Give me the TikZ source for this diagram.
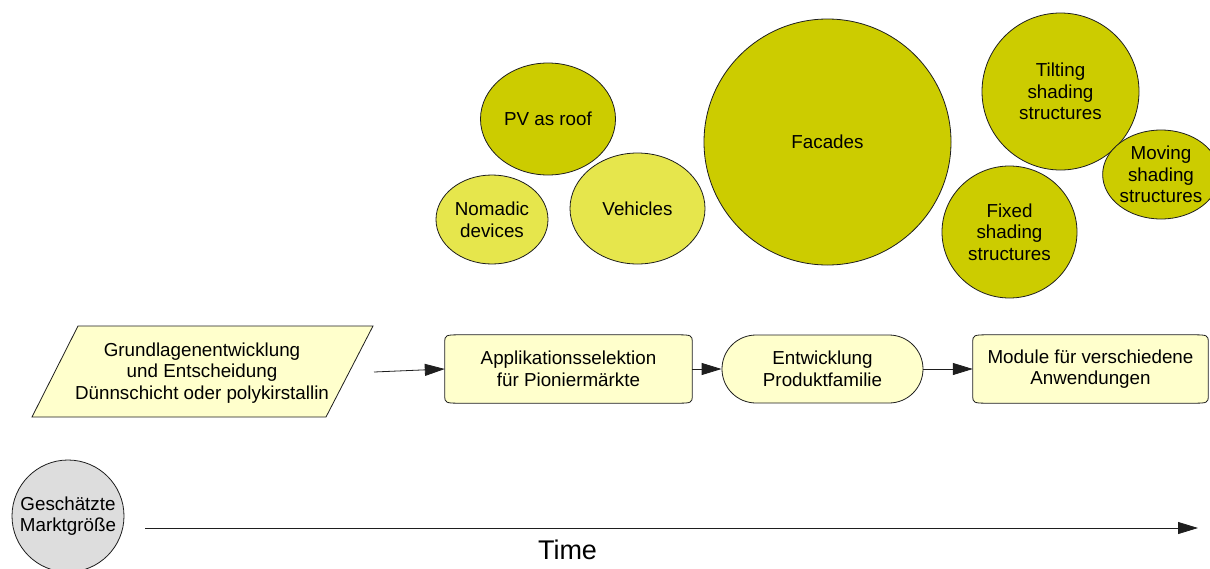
\documentclass[tikz,border=0pt]{standalone}
\usepackage{fontspec}
\setmainfont{Liberation Sans}
\usetikzlibrary{shapes.geometric,arrows.meta,backgrounds}
\definecolor{olive}{RGB}{204,204,0}
\definecolor{lightolive}{RGB}{230,230,76}
\definecolor{flowfill}{RGB}{255,255,204}
\definecolor{graycirc}{RGB}{221,221,221}
\definecolor{edgecol}{RGB}{30,30,30}
\newcommand\curvedbox[1]{%
  \begin{scope}[on background layer]
  \path[draw=edgecol,line width=0.8pt,fill=flowfill]
    ([yshift=-8pt]#1.north west) .. controls (#1.north west) .. ([xshift=18pt]#1.north west)
    -- ([xshift=-18pt]#1.north east) .. controls (#1.north east) .. ([yshift=-8pt]#1.north east)
    -- ([yshift=8pt]#1.south east) .. controls (#1.south east) .. ([xshift=-18pt]#1.south east)
    -- ([xshift=18pt]#1.south west) .. controls (#1.south west) .. ([yshift=8pt]#1.south west)
    -- cycle;
  \end{scope}}
\tikzset{
  txt/.style={font=\fontsize{18.8}{21.6}\selectfont, align=center, inner sep=0pt},
  bubble/.style={ellipse, draw=edgecol, line width=0.8pt, txt},
  dark/.style={bubble, fill=olive},
  light/.style={bubble, fill=lightolive},
  flowbox/.style={txt, minimum height=68pt},
  conn/.style={draw=edgecol, line width=0.8pt, -{Triangle[length=20pt,width=12pt]}},
}
\begin{document}
\begin{tikzpicture}[x=1pt,y=-1pt]
\useasboundingbox (0,0) rectangle (1210,568);
% bubbles
\node[dark, minimum width=135pt, minimum height=112pt] (pv) at (548,119) {PV as roof};
\node[light, minimum width=112pt, minimum height=89pt] (nom) at (492,219.5) {Nomadic\\devices};
\node[light, minimum width=135pt, minimum height=111pt] (veh) at (637.5,208.5) {Vehicles};
\node[dark, minimum width=247pt, minimum height=246pt] (fac) at (827.5,142) {Facades};
\node[dark, minimum width=157pt, minimum height=157pt] (tilt) at (1060.5,91.5) {Tilting\\shading\\structures};
\node[dark, minimum width=98pt, minimum height=89pt] (mov) at (1161,174.5) {Moving\\shading\\structures};
\node[dark, minimum width=135pt, minimum height=132pt] (fix) at (1009.5,232) {Fixed\\shading\\structures};
% flow
\path[draw=edgecol,line width=0.8pt,fill=flowfill] (78,326) -- (373,326) -- (326,417) -- (32,417) -- cycle;
\node[txt] (grund) at (202,373) {Grundlagenentwicklung\\und Entscheidung\\Dünnschicht oder polykirstallin};
\coordinate (gout) at (374,372);
\node[flowbox, minimum width=247pt] (app) at (568.5,369) {Applikationsselektion\\für Pioniermärkte};
\curvedbox{app}
\node[flowbox, minimum width=201pt, draw=edgecol, line width=0.8pt, fill=flowfill, rounded corners=34pt] (ent) at (822.5,369) {Entwicklung\\Produktfamilie};
\node[flowbox, minimum width=235pt] (mod) at (1090.5,369) {Module für verschiedene\\Anwendungen};
\curvedbox{mod}
\draw[conn] (gout) -- (app.west);
\draw[conn] (app.east) -- (ent.west);
\draw[conn] (ent.east) -- (mod.west);
% bottom
\node[txt, circle, draw=edgecol, line width=0.8pt, fill=graycirc, minimum size=112pt] (mkt) at (68,516) {Geschätzte\\Marktgröße};
\coordinate (t0) at (145,528);
\coordinate (t1) at (1198,528);
\draw[conn] (t0) -- (t1);
\node[font=\fontsize{27}{30}\selectfont, inner sep=0pt] (time) at (567.5,550) {Time};
\end{tikzpicture}
\end{document}
